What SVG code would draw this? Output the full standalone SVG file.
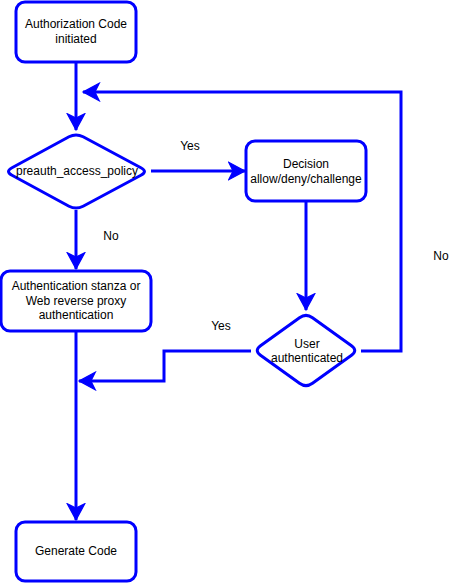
<svg xmlns="http://www.w3.org/2000/svg" width="472" height="583" viewBox="0 0 472 583">
<style>
.node{fill:#fff;stroke:#0000ff;stroke-width:3}
.edge{fill:none;stroke:#0000ff;stroke-width:3}
text{font-family:"Liberation Sans",Arial,sans-serif;font-size:12px;fill:#000;text-anchor:middle;dominant-baseline:central}
</style>
<defs>
<marker id="arr" markerUnits="userSpaceOnUse" markerWidth="20" markerHeight="20" viewBox="-14 -8 16 16" refX="0" refY="0" orient="auto">
<path d="M0,0 L-13,-7 L-9.5,0 L-13,7 Z" fill="#0000ff" stroke="#0000ff" stroke-width="1"/>
</marker>
</defs>
<rect width="472" height="583" fill="#fff"/>
<g id="connectors">
<path class="edge" d="M76,62 V130" marker-end="url(#arr)"/>
<path class="edge" d="M151,171 H245" marker-end="url(#arr)"/>
<path class="edge" d="M306,202 V310" marker-end="url(#arr)"/>
<path class="edge" d="M76,210 V269" marker-end="url(#arr)"/>
<path class="edge" d="M361,351 H401 V92 H83" marker-end="url(#arr)"/>
<path class="edge" d="M251,351 H164 V381 H79" marker-end="url(#arr)"/>
<path class="edge" d="M76,331 V520" marker-end="url(#arr)"/>
<text x="190" y="146">Yes</text>
<text x="111" y="236">No</text>
<text x="221" y="326">Yes</text>
<text x="441" y="256">No</text>
</g>
<g id="n1">
<rect class="node" x="16" y="2" width="120" height="60" rx="9"/>
<text x="76" y="24">Authorization Code</text>
<text x="76" y="39">initiated</text>
</g>
<g id="n2">
<path class="node" d="M83.1,136.8 L140.9,167.7 Q148,171.5 140.9,175.3 L83.1,206.2 Q76,210 69,206.2 L12,175.3 Q5,171.5 12,167.7 L69,136.8 Q76,133 83.1,136.8 Z"/>
<text x="77" y="171">preauth_access_policy</text>
</g>
<g id="n3">
<rect class="node" x="246" y="141" width="120" height="60" rx="9"/>
<text x="306" y="164">Decision</text>
<text x="306" y="179">allow/deny/challenge</text>
</g>
<g id="n4">
<path class="node" d="M312.5,317.7 L351.5,345.8 Q358,350.5 351.5,355.2 L312.5,383.3 Q306,388 299.5,383.3 L260.5,355.2 Q254,350.5 260.5,345.8 L299.5,317.7 Q306,313 312.5,317.7 Z"/>
<text x="307" y="344">User</text>
<text x="307" y="358">authenticated</text>
</g>
<g id="n5">
<rect class="node" x="1" y="271" width="150" height="60" rx="9"/>
<text x="76" y="286">Authentication stanza or</text>
<text x="76" y="301">Web reverse proxy</text>
<text x="76" y="315">authentication</text>
</g>
<g id="n6">
<rect class="node" x="16" y="522" width="120" height="59" rx="9"/>
<text x="76" y="551">Generate Code</text>
</g>
</svg>
